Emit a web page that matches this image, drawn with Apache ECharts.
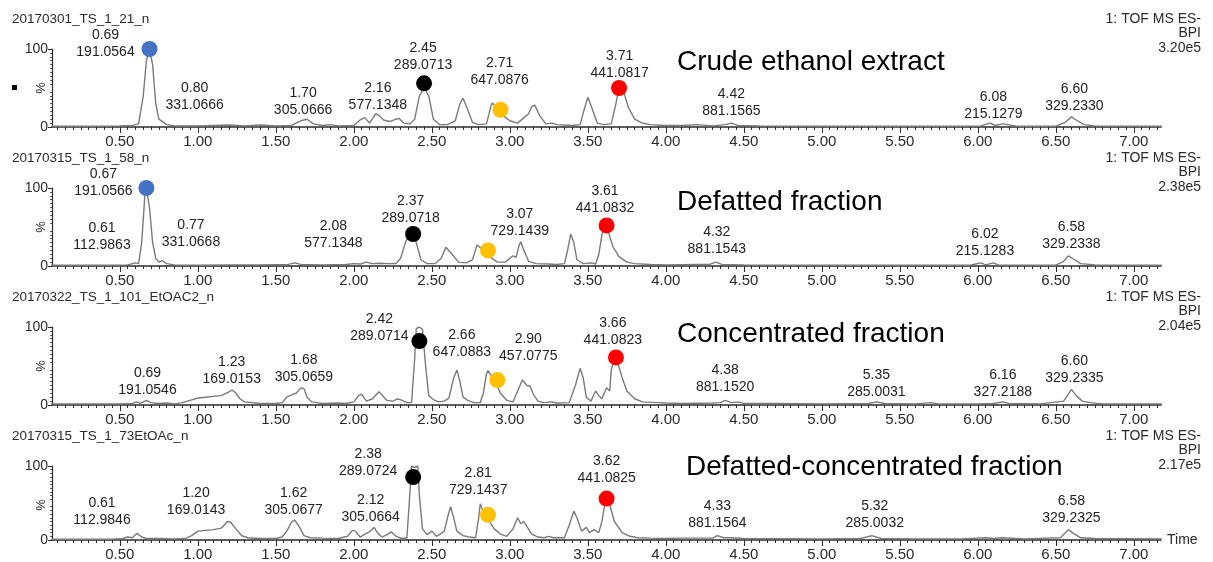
<!DOCTYPE html>
<html>
<head>
<meta charset="utf-8">
<script src="https://cdn.jsdelivr.net/npm/echarts@6/dist/echarts.min.js"></script>
<style>
  html, body { margin: 0; padding: 0; background: #ffffff; }
  #chart { width: 1213px; height: 562px; }
</style>
</head>
<body>
<div id="chart"></div>
<script>
// ---- data -------------------------------------------------------------
const fileNames = ['20170301_TS_1_21_n', '20170315_TS_1_58_n', '20170322_TS_1_101_EtOAC2_n', '20170315_TS_1_73EtOAc_n'];
const sampleNames = ['Crude ethanol extract', 'Defatted fraction', 'Concentrated fraction', 'Defatted-concentrated fraction'];
const detectorLines = ['1: TOF MS ES-', 'BPI'];
const basePeakIntensity = ['3.20e5', '2.38e5', '2.04e5', '2.17e5'];

const timeTicks = [0.5, 1.0, 1.5, 2.0, 2.5, 3.0, 3.5, 4.0, 4.5, 5.0, 5.5, 6.0, 6.5, 7.0];
const pctTicks = [0, 100];

// base peak chromatograms, [retention time (min), relative intensity (%)]
const crudeTrace = [[0.06,1],[0.3,1],[0.5,1.5],[0.58,2],[0.62,4],[0.65,40],[0.67,85],[0.69,100],[0.71,80],[0.73,30],[0.75,10],[0.78,6],[0.80,3],[0.85,1.5],[1.0,1.5],[1.1,2],[1.2,2.5],[1.3,1.5],[1.4,2.5],[1.5,1.5],[1.6,2],[1.66,8],[1.70,10],[1.74,4],[1.8,2],[1.85,3],[1.9,1.5],[2.0,2],[2.04,9],[2.07,12],[2.10,5],[2.14,17],[2.16,15],[2.19,9],[2.23,7],[2.27,10],[2.29,11],[2.32,5],[2.36,4],[2.39,10],[2.42,40],[2.45,50],[2.48,40],[2.51,10],[2.55,3],[2.6,3],[2.65,8],[2.68,30],[2.70,37],[2.73,22],[2.76,6],[2.8,3],[2.85,4],[2.88,28],[2.89,31],[2.92,22],[2.96,14],[3.0,8],[3.05,5],[3.09,12],[3.12,17],[3.14,26],[3.16,28],[3.19,15],[3.23,4],[3.27,5],[3.3,3],[3.4,2],[3.45,3],[3.48,25],[3.50,38],[3.53,22],[3.56,5],[3.6,3],[3.65,4],[3.68,30],[3.70,50],[3.71,52],[3.73,45],[3.76,25],[3.8,10],[3.85,5],[3.9,3],[4.0,2],[4.1,2],[4.2,3],[4.3,1.5],[4.38,3],[4.42,5],[4.46,2],[4.6,1.5],[5.0,1],[5.5,1],[5.9,1],[6.02,1.5],[6.06,4],[6.08,5],[6.11,2],[6.16,4],[6.19,3],[6.25,1],[6.5,1],[6.56,6],[6.60,13],[6.63,9],[6.68,3],[6.75,1.5],[7.0,1],[7.18,1]];
const defattedTrace = [[0.06,1],[0.4,1],[0.55,1.5],[0.6,4],[0.62,3],[0.64,30],[0.66,90],[0.67,100],[0.69,75],[0.71,30],[0.73,10],[0.75,5],[0.77,7],[0.80,3],[0.85,1.5],[1.0,1],[1.2,1.5],[1.4,1.5],[1.58,2],[1.62,4],[1.66,2],[1.8,1.5],[1.95,2],[2.0,3],[2.04,2.5],[2.08,5],[2.12,3],[2.17,3.5],[2.22,3],[2.27,3],[2.30,10],[2.33,30],[2.36,43],[2.38,44],[2.40,30],[2.43,8],[2.47,3],[2.52,3],[2.56,10],[2.59,24],[2.60,26],[2.63,15],[2.67,5],[2.72,4],[2.76,8],[2.79,27],[2.80,28],[2.83,20],[2.87,12],[2.92,5],[2.97,5],[3.0,10],[3.02,13],[3.04,11],[3.06,27],[3.07,31],[3.09,20],[3.12,6],[3.17,3],[3.25,2.5],[3.3,2],[3.35,3],[3.37,20],[3.39,41],[3.41,30],[3.43,8],[3.47,3],[3.52,4],[3.55,2.5],[3.57,15],[3.59,40],[3.61,52],[3.63,45],[3.66,25],[3.7,12],[3.75,5],[3.8,3],[3.9,2],[4.0,1.5],[4.2,2],[4.28,2],[4.32,5],[4.36,2],[4.5,1.5],[5.0,1],[5.5,1],[5.95,1],[6.02,4],[6.05,1.5],[6.10,4],[6.13,1.5],[6.5,1],[6.55,6],[6.58,13],[6.62,8],[6.66,3],[6.75,1.5],[7.18,1]];
const concentratedTrace = [[0.06,1.5],[0.5,1.5],[0.58,2],[0.61,4],[0.63,2],[0.67,6],[0.70,3],[0.75,2],[0.8,2.5],[0.85,1.5],[0.9,3],[0.95,6],[1.0,9],[1.05,10],[1.1,11],[1.15,12],[1.19,16],[1.22,19],[1.24,16],[1.27,8],[1.3,4],[1.4,2],[1.5,2],[1.54,3],[1.57,10],[1.61,14],[1.63,15],[1.66,22],[1.68,21],[1.70,10],[1.73,4],[1.8,2],[1.9,2.5],[1.95,2],[2.0,4],[2.03,12],[2.05,14],[2.08,5],[2.12,8],[2.16,17],[2.18,13],[2.21,6],[2.25,5],[2.28,8],[2.31,6],[2.34,3],[2.37,3],[2.39,60],[2.40,98],[2.42,100],[2.44,97],[2.45,95],[2.46,50],[2.48,12],[2.51,7],[2.54,4],[2.58,5],[2.61,9],[2.64,35],[2.66,45],[2.68,30],[2.70,10],[2.73,6],[2.77,3],[2.81,3],[2.83,15],[2.85,40],[2.86,44],[2.88,38],[2.91,28],[2.94,15],[2.98,6],[3.02,4],[3.05,18],[3.08,32],[3.09,34],[3.11,25],[3.13,24],[3.15,14],[3.18,5],[3.22,3],[3.27,4],[3.3,2.5],[3.38,3],[3.42,25],[3.45,47],[3.47,35],[3.49,10],[3.52,5],[3.55,18],[3.57,12],[3.59,8],[3.62,22],[3.64,18],[3.65,45],[3.67,60],[3.69,55],[3.72,35],[3.75,18],[3.8,8],[3.85,4],[3.95,3],[4.0,2.5],[4.1,2],[4.3,2.5],[4.35,3],[4.38,6],[4.42,3],[4.46,4],[4.5,2],[4.7,2],[5.0,1.5],[5.3,2],[5.35,4],[5.4,2],[5.6,1.5],[5.7,3],[5.75,1.5],[6.0,1.5],[6.1,2],[6.16,4],[6.2,2],[6.4,1.5],[6.55,5],[6.60,20],[6.63,12],[6.67,5],[6.72,3],[6.8,1.5],[7.18,1.5]];
const defattedConcTrace = [[0.06,1],[0.45,1],[0.52,2],[0.55,4],[0.58,3],[0.61,9],[0.64,4],[0.67,2],[0.75,2],[0.85,1.5],[0.92,2],[0.96,6],[1.0,12],[1.05,13],[1.1,14],[1.15,16],[1.19,25],[1.21,24],[1.24,16],[1.28,6],[1.32,3],[1.4,2],[1.5,2],[1.54,4],[1.57,12],[1.60,24],[1.62,27],[1.65,18],[1.68,6],[1.72,3],[1.8,2.5],[1.9,2],[1.96,5],[1.99,13],[2.01,12],[2.04,4],[2.08,9],[2.10,11],[2.13,17],[2.15,10],[2.18,4],[2.22,8],[2.24,11],[2.27,5],[2.31,2],[2.34,3],[2.355,50],[2.37,100],[2.39,98],[2.41,100],[2.42,60],[2.44,15],[2.47,7],[2.50,12],[2.53,5],[2.56,9],[2.58,12],[2.60,30],[2.62,45],[2.64,30],[2.66,12],[2.7,6],[2.74,4],[2.78,3],[2.80,30],[2.81,49],[2.83,38],[2.86,28],[2.9,15],[2.94,8],[2.98,5],[3.02,15],[3.05,30],[3.07,22],[3.09,25],[3.11,18],[3.14,8],[3.18,4],[3.22,3],[3.25,5],[3.28,3],[3.35,3],[3.38,20],[3.41,39],[3.43,30],[3.46,12],[3.49,17],[3.51,10],[3.54,14],[3.57,10],[3.59,25],[3.61,50],[3.62,56],[3.64,48],[3.67,25],[3.72,10],[3.77,5],[3.82,3],[3.9,2.5],[4.0,2],[4.1,2.5],[4.3,2.5],[4.33,6],[4.37,3],[4.42,3],[4.5,2],[5.0,1.5],[5.25,2],[5.32,6],[5.38,2],[5.6,1.5],[5.9,1.5],[6.05,3],[6.1,2],[6.15,3],[6.3,1.5],[6.53,3],[6.58,14],[6.62,8],[6.66,3],[6.75,2],[7.18,1.5]];

// annotated peaks: [retention time, base peak m/z]
const crudePeaks = [[0.69,'191.0564'],[0.80,'331.0666'],[1.70,'305.0666'],[2.16,'577.1348'],[2.45,'289.0713'],[2.71,'647.0876'],[3.71,'441.0817'],[4.42,'881.1565'],[6.08,'215.1279'],[6.60,'329.2330']];
const defattedPeaks = [[0.67,'191.0566'],[0.61,'112.9863'],[0.77,'331.0668'],[2.08,'577.1348'],[2.37,'289.0718'],[3.07,'729.1439'],[3.61,'441.0832'],[4.32,'881.1543'],[6.02,'215.1283'],[6.58,'329.2338']];
const concentratedPeaks = [[0.69,'191.0546'],[1.23,'169.0153'],[1.68,'305.0659'],[2.42,'289.0714'],[2.66,'647.0883'],[2.90,'457.0775'],[3.66,'441.0823'],[4.38,'881.1520'],[5.35,'285.0031'],[6.16,'327.2188'],[6.60,'329.2335']];
const defattedConcPeaks = [[0.61,'112.9846'],[1.20,'169.0143'],[1.62,'305.0677'],[2.12,'305.0664'],[2.38,'289.0724'],[2.81,'729.1437'],[3.62,'441.0825'],[4.33,'881.1564'],[5.32,'285.0032'],[6.58,'329.2325']];

// highlighted compounds: [retention time, intensity (%), marker key]
const crudeMarks = [[0.69,100,'blue'],[2.45,56,'black'],[2.94,22,'yellow'],[3.70,50,'red']];
const defattedMarks = [[0.67,100,'blue'],[2.38,41,'black'],[2.86,20,'yellow'],[3.62,52,'red']];
const concentratedMarks = [[2.42,82,'black'],[2.92,32,'yellow'],[3.68,61,'red']];
const defattedConcMarks = [[2.38,85,'black'],[2.86,34,'yellow'],[3.62,56,'red']];

// ---- layout & style --------------------------------------------------
const traces = [crudeTrace, defattedTrace, concentratedTrace, defattedConcTrace];
const peaks = [crudePeaks, defattedPeaks, concentratedPeaks, defattedConcPeaks];
const marks = [crudeMarks, defattedMarks, concentratedMarks, defattedConcMarks];

// label block offsets in px from the peak's baseline point
const labelShift = [
  [[-44,-83],[28,-30],[-4,-25],[-1,-30],[-1,-70],[35,-55],[-1,-62],[0,-24],[3,-21],[3,-29]],
  [[-43,-83],[-35,-29],[29,-32],[-33,-31],[-1,-56],[-1,-43],[0,-66],[1,-25],[4,-23],[3,-30]],
  [[-2,-23],[-2,-34],[0,-36],[-40,-77],[5,-61],[34,-57],[0,-73],[0,-26],[0,-21],[0,-21],[3,-35]],
  [[-35,-28],[-33,-38],[-1,-38],[-2,-31],[-45,-77],[-2,-58],[0,-70],[0,-25],[3,-25],[3,-30]]
];
const markColors = { blue: '#4472c4', black: '#000000', yellow: '#ffc000', red: '#ff0000' };

const X_MIN = 0.065, X_MAX = 7.174;
const GRID_LEFT = 52, GRID_W = 1109, GRID_H = 78;
const gridTops = [49, 188, 327, 466];
const titleY = [20, 159, 298, 437];
const sampleY = [64, 204, 336, 469];
const sampleX = [677, 677, 677, 686];
const FONT = '"Liberation Sans", Arial, sans-serif';
const INK = '#2a2a2a';

const minorTicks = [];
for (let k = 2; k * 0.05 <= X_MAX + 1e-9; k++) minorTicks.push(+(k * 0.05).toFixed(2));

const grids = [], xAxes = [], yAxes = [], series = [], graphics = [];

gridTops.forEach((top, i) => {
  grids.push({ left: GRID_LEFT, top: top, width: GRID_W, height: GRID_H });
  // labelled axis with major ticks
  xAxes.push({
    gridIndex: i, type: 'value', min: X_MIN, max: X_MAX,
    name: i === 3 ? 'Time' : '', nameLocation: 'end', nameGap: 6,
    nameTextStyle: { fontFamily: FONT, fontSize: 14, color: INK },
    axisLine: { show: true, onZero: false, lineStyle: { color: '#2b2b2b', width: 1.6 } },
    axisTick: { show: true, customValues: timeTicks, length: 6, lineStyle: { color: '#2b2b2b', width: 1 } },
    axisLabel: { customValues: timeTicks, formatter: v => v.toFixed(2), fontFamily: FONT, fontSize: 15, color: INK, margin: 7 },
    splitLine: { show: false }
  });
  // companion axis carrying the fine ticks
  xAxes.push({
    gridIndex: i, type: 'value', min: X_MIN, max: X_MAX, position: 'bottom',
    axisLine: { show: false },
    axisTick: { show: true, customValues: minorTicks, length: 3, lineStyle: { color: '#2b2b2b', width: 1 } },
    axisLabel: { show: false }, splitLine: { show: false }
  });
  yAxes.push({
    gridIndex: i, type: 'value', min: 0, max: 100, interval: 50,
    axisLine: { show: true, lineStyle: { color: '#2b2b2b', width: 1.2 } },
    axisTick: { show: true, customValues: pctTicks, length: 4, lineStyle: { color: '#2b2b2b' } },
    minorTick: { show: true, splitNumber: 10, length: 2, lineStyle: { color: '#555' } },
    axisLabel: { customValues: pctTicks, fontFamily: FONT, fontSize: 14, color: INK, margin: 4 },
    splitLine: { show: false }, minorSplitLine: { show: false }
  });

  series.push({
    type: 'line', xAxisIndex: i * 2, yAxisIndex: i, data: traces[i],
    showSymbol: false, symbol: 'none', smooth: false, z: 2, silent: true,
    lineStyle: { color: '#7a7a7a', width: 1.4 }
  });

  const pk = peaks[i];
  series.push({
    type: 'scatter', xAxisIndex: i * 2, yAxisIndex: i, symbolSize: 0, z: 3, silent: true,
    itemStyle: { opacity: 1 },
    data: pk.map((p, k) => ({ value: [p[0], 0], label: { offset: labelShift[i][k] } })),
    label: {
      show: true, position: 'inside', align: 'center', verticalAlign: 'middle',
      fontFamily: FONT, fontSize: 14, lineHeight: 17, color: '#222222',
      formatter: prm => prm.value[0].toFixed(2) + '\n' + pk[prm.dataIndex][1]
    }
  });

  series.push({
    type: 'scatter', xAxisIndex: i * 2, yAxisIndex: i, symbolSize: 16, z: 5, silent: true,
    data: marks[i].map(m => ({ value: [m[0], m[1]], itemStyle: { color: markColors[m[2]], opacity: 1 } }))
  });

  graphics.push({
    type: 'text', left: 12, top: titleY[i] - 8,
    style: { text: fileNames[i], fontFamily: FONT, fontSize: 13.5, fill: INK }
  });
  detectorLines.concat([basePeakIntensity[i]]).forEach((line, j) => {
    graphics.push({
      type: 'text', right: 12, top: titleY[i] - 8 + j * 14.5,
      style: { text: line, fontFamily: FONT, fontSize: 14, fill: INK }
    });
  });
  graphics.push({
    type: 'text', left: sampleX[i], top: sampleY[i] - 16,
    style: { text: sampleNames[i], fontFamily: FONT, fontSize: 28, fill: '#000' }
  });
  // rotated "%" beside the intensity axis
  graphics.push({
    type: 'text', x: 41, y: top + GRID_H / 2, rotation: Math.PI / 2,
    style: { text: '%', fontFamily: FONT, fontSize: 13, fill: INK, align: 'center', verticalAlign: 'middle' }
  });
});

graphics.push({ type: 'rect', left: 12, top: 85, shape: { width: 5, height: 5 }, style: { fill: '#000' } });

const chart = echarts.init(document.getElementById('chart'), null, { renderer: 'canvas' });
chart.setOption({
  animation: false,
  backgroundColor: '#ffffff',
  grid: grids, xAxis: xAxes, yAxis: yAxes, series: series, graphic: graphics
});
</script>
</body>
</html>
